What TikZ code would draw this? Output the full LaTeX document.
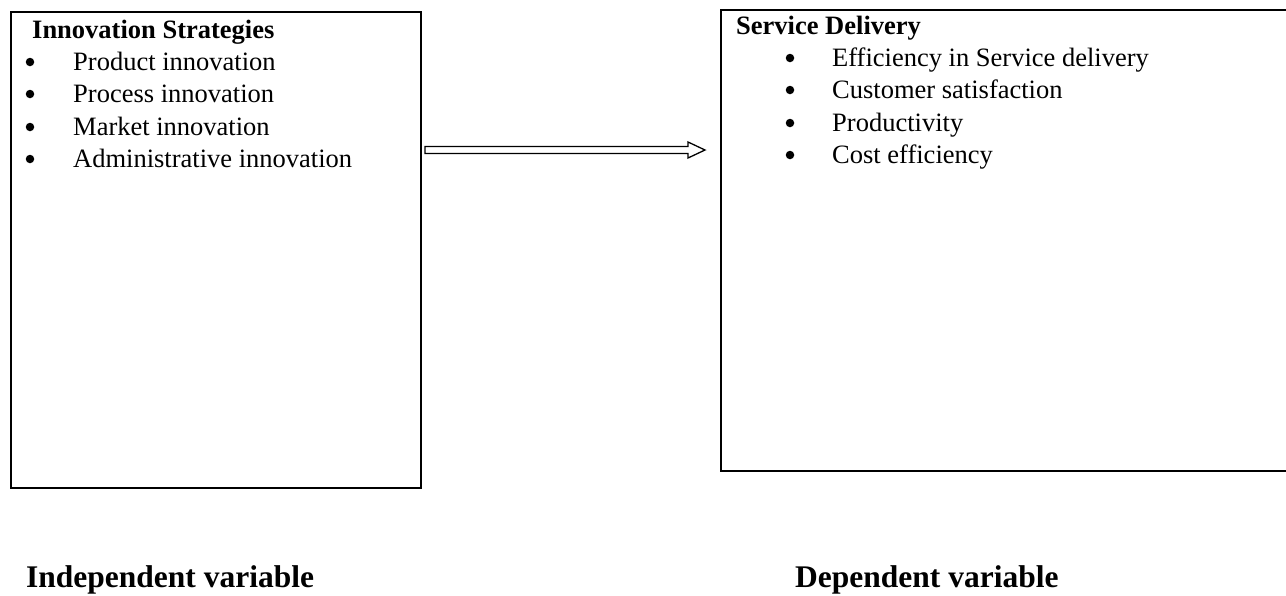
\documentclass[tikz,border=0pt]{standalone}
\usepackage{fontspec}
\setmainfont{Liberation Serif}
\usetikzlibrary{calc}
\tikzset{
  box/.style={draw=black, line width=2pt, rectangle, inner sep=0pt},
  txt/.style={font=\fontsize{26.5}{32}\selectfont, inner sep=0pt, text=black},
  txtb/.style={font=\fontsize{26.5}{32}\selectfont\bfseries, inner sep=0pt, text=black},
  lbl/.style={font=\fontsize{31.5}{36}\selectfont\bfseries, inner sep=0pt, text=black},
  dot/.style={circle, fill=black, draw=none, inner sep=0pt, minimum size=8.5pt},
  hollowarrow/.style={draw=black, fill=white, line width=1.3pt, line join=miter},
}
\begin{document}
\begin{tikzpicture}[x=1pt, y=-1pt]
\useasboundingbox (0,0) rectangle (1286,595);
\fill[white] (0,0) rectangle (1286,595);
\begin{scope}
\clip (0,0) rectangle (1286,595);
% boxes
\node[box, minimum width=410pt, minimum height=476pt] (L) at (216,250) {};
\node[box, minimum width=579pt, minimum height=461pt] (R) at (1010.5,240.5) {};
\end{scope}
% left box text
\node[txtb, anchor=base west] (h1) at (32,38) {Innovation Strategies};
\node[dot] (lb1) at (30,62) {};
\node[dot] (lb2) at (30,94) {};
\node[dot] (lb3) at (30,127) {};
\node[dot] (lb4) at (30,159) {};
\node[txt, anchor=base west] (li1) at (73,70) {Product innovation};
\node[txt, anchor=base west] (li2) at (73,102) {Process innovation};
\node[txt, anchor=base west] (li3) at (73,135) {Market innovation};
\node[txt, anchor=base west] (li4) at (73,167) {Administrative innovation};
% right box text
\node[txtb, anchor=base west] (h2) at (736,34) {Service Delivery};
\node[dot] (rb1) at (790,58) {};
\node[dot] (rb2) at (790,90) {};
\node[dot] (rb3) at (790,123) {};
\node[dot] (rb4) at (790,155) {};
\node[txt, anchor=base west] (ri1) at (832,66) {Efficiency in Service delivery};
\node[txt, anchor=base west] (ri2) at (832,98) {Customer satisfaction};
\node[txt, anchor=base west] (ri3) at (832,131) {Productivity};
\node[txt, anchor=base west] (ri4) at (832,163) {Cost efficiency};
% arrow
\coordinate (a0) at ($(L.east |- 0,150)+(3,0)$);
\coordinate (a1) at ($(R.west |- 0,150)+(-15,0)$);
\draw[hollowarrow] ($(a0)+(0,-3.5)$) -- ($(a1)+(-17,-3.5)$) -- ($(a1)+(-17,-8)$) -- (a1)
  -- ($(a1)+(-17,8)$) -- ($(a1)+(-17,3.5)$) -- ($(a0)+(0,3.5)$) -- cycle;
% bottom labels
\node[lbl, anchor=base west] (iv) at (26,587) {Independent variable};
\node[lbl, anchor=base west] (dv) at (795,587) {Dependent variable};
\end{tikzpicture}
\end{document}
